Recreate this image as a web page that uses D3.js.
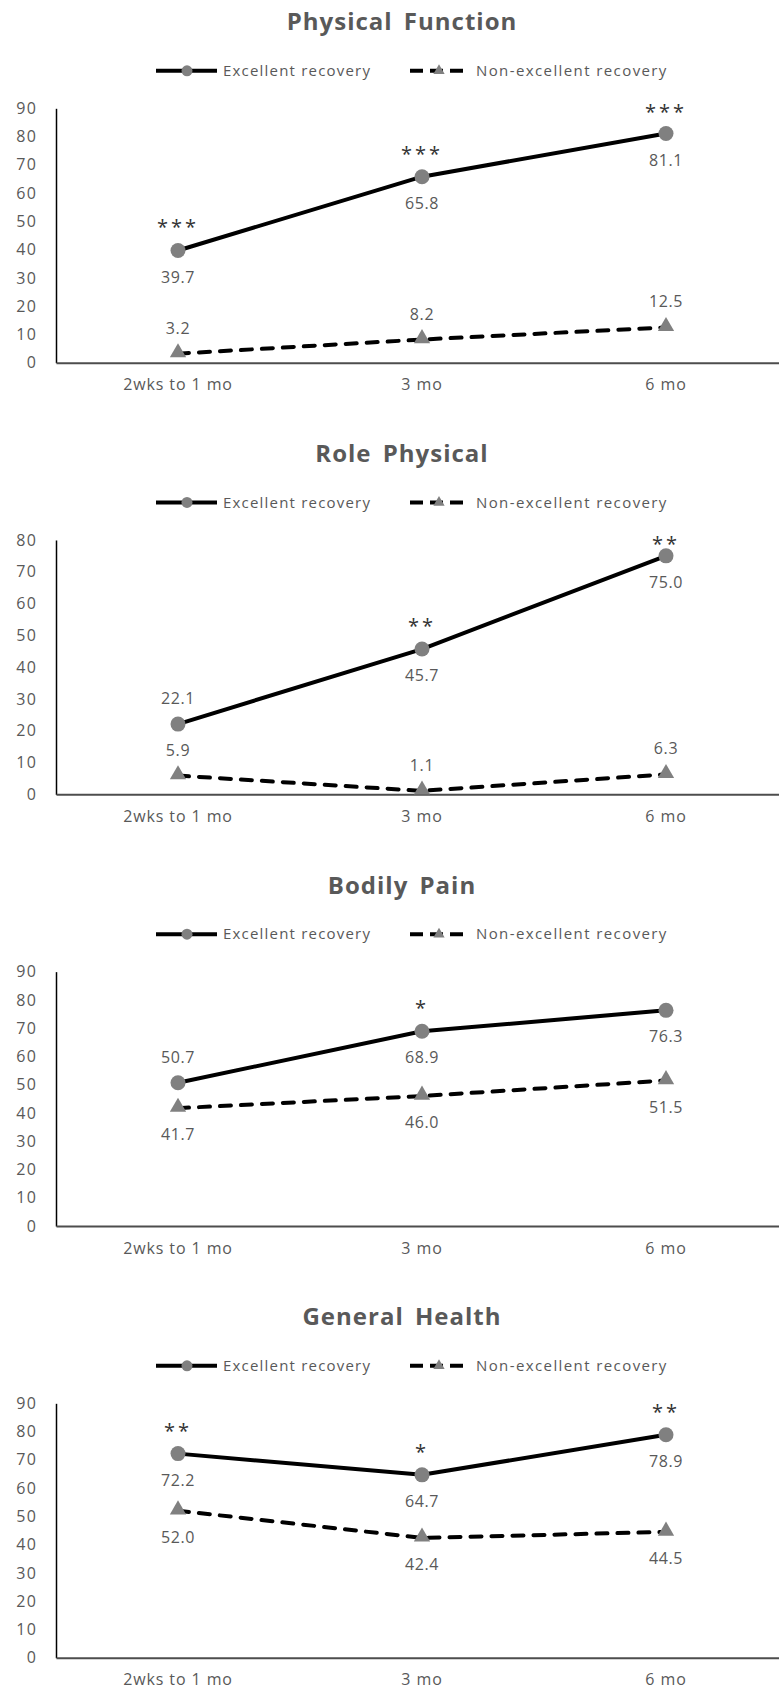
<!DOCTYPE html>
<html>
<head>
<meta charset="utf-8">
<script src="https://cdn.jsdelivr.net/npm/d3@7"></script>
<style>
  html, body { margin: 0; padding: 0; background: #fff; }
  svg { display: block; }
  text { font-family: "Open Sans", "Noto Sans", sans-serif; }
</style>
</head>
<body>
<svg id="chart" width="779" height="1690"></svg>
<script>
// Time points shared by every panel
const timepoints = ["2wks to 1 mo", "3 mo", "6 mo"];

// Panel titles (SF-36 domains)
const panelTitles = ["Physical Function", "Role Physical", "Bodily Pain", "General Health"];

// Mean scores per group
const physicalFunctionExcellent = [39.7, 65.8, 81.1];
const physicalFunctionNonExcellent = [3.2, 8.2, 12.5];
const rolePhysicalExcellent = [22.1, 45.7, 75.0];
const rolePhysicalNonExcellent = [5.9, 1.1, 6.3];
const bodilyPainExcellent = [50.7, 68.9, 76.3];
const bodilyPainNonExcellent = [41.7, 46.0, 51.5];
const generalHealthExcellent = [72.2, 64.7, 78.9];
const generalHealthNonExcellent = [52.0, 42.4, 44.5];

// Significance markers per time point
const physicalFunctionSig = ["***", "***", "***"];
const rolePhysicalSig = ["", "**", "**"];
const bodilyPainSig = ["", "*", ""];
const generalHealthSig = ["**", "*", "**"];

// Y-axis maxima and tick labels
const yMaxima = [90, 80, 90, 90];
const ticks90 = [0, 10, 20, 30, 40, 50, 60, 70, 80, 90];
const ticks80 = [0, 10, 20, 30, 40, 50, 60, 70, 80];

// Legend labels
const seriesNames = ["Excellent recovery", "Non-excellent recovery"];

// Which side of the marker each value label sits on
const labelSides = [
  { exc: ["below", "below", "below"], non: ["above", "above", "above"] },
  { exc: ["above", "below", "below"], non: ["above", "above", "above"] },
  { exc: ["above", "below", "below"], non: ["below", "below", "below"] },
  { exc: ["below", "below", "below"], non: ["below", "below", "below"] }
];

const panels = [
  { title: panelTitles[0], exc: physicalFunctionExcellent, non: physicalFunctionNonExcellent, sig: physicalFunctionSig, yMax: yMaxima[0], ticks: ticks90 },
  { title: panelTitles[1], exc: rolePhysicalExcellent, non: rolePhysicalNonExcellent, sig: rolePhysicalSig, yMax: yMaxima[1], ticks: ticks80 },
  { title: panelTitles[2], exc: bodilyPainExcellent, non: bodilyPainNonExcellent, sig: bodilyPainSig, yMax: yMaxima[2], ticks: ticks90 },
  { title: panelTitles[3], exc: generalHealthExcellent, non: generalHealthNonExcellent, sig: generalHealthSig, yMax: yMaxima[3], ticks: ticks90 }
];

// Layout
const svg = d3.select("#chart");
const textGrey = "#595959";
const markerGrey = "#808080";
const axisLeftX = 56;
const axisRightX = 788;
const firstPlotTop = 108.3;
const panelStep = 431.67;
const plotHeight = 254.4;

const x = d3.scaleBand().domain(timepoints).range([axisLeftX, axisRightX]);
const cx = d => x(d) + x.bandwidth() / 2;

panels.forEach((p, i) => {
  const top = firstPlotTop + panelStep * i;
  const bottom = top + plotHeight;
  const y = d3.scaleLinear().domain([0, p.yMax]).range([bottom, top]);
  const g = svg.append("g");

  // Title
  g.append("text")
    .attr("x", 402).attr("y", top - 86.5)
    .attr("dy", "0.35em")
    .attr("text-anchor", "middle")
    .attr("font-size", 24).attr("font-weight", 700)
    .attr("letter-spacing", 1)
    .attr("word-spacing", 4)
    .attr("fill", textGrey)
    .text(p.title);

  // Legend
  const ly = top - 37.5;
  const leg = g.append("g");
  leg.append("line").attr("x1", 156).attr("x2", 217).attr("y1", ly).attr("y2", ly)
    .attr("stroke", "#000").attr("stroke-width", 4);
  leg.append("circle").attr("cx", 187).attr("cy", ly).attr("r", 5.5).attr("fill", markerGrey);
  leg.append("text").attr("x", 223).attr("y", ly).attr("dy", "0.35em")
    .attr("font-size", 15).attr("letter-spacing", 1.2)
    .attr("fill", textGrey).text(seriesNames[0]);
  leg.append("line").attr("x1", 410).attr("x2", 467).attr("y1", ly).attr("y2", ly)
    .attr("stroke", "#000").attr("stroke-width", 4)
    .attr("stroke-dasharray", "13,7");
  leg.append("path").attr("d", d3.symbol(d3.symbolTriangle, 55)())
    .attr("transform", `translate(439,${ly})`).attr("fill", markerGrey);
  leg.append("text").attr("x", 476).attr("y", ly).attr("dy", "0.35em")
    .attr("font-size", 15).attr("letter-spacing", 1.4)
    .attr("fill", textGrey).text(seriesNames[1]);

  // Y axis
  const yAxis = g.append("g")
    .attr("transform", `translate(${axisLeftX},0)`)
    .call(d3.axisLeft(y).tickValues(p.ticks).tickSize(0).tickSizeOuter(0).tickPadding(19));
  yAxis.select(".domain").attr("stroke", "#000").attr("stroke-width", 1.5);
  yAxis.selectAll(".tick text").attr("font-size", 16).attr("fill", textGrey)
    .attr("letter-spacing", 1.2)
    .attr("font-family", '"Open Sans", sans-serif');

  // X axis
  const xAxis = g.append("g")
    .attr("transform", `translate(0,${bottom})`)
    .call(d3.axisBottom(x).tickSize(0).tickSizeOuter(0).tickPadding(0));
  xAxis.select(".domain").attr("stroke", "#4d4d4d").attr("stroke-width", 2);
  xAxis.selectAll(".tick text").attr("font-size", 16).attr("fill", textGrey)
    .attr("letter-spacing", 0.9)
    .attr("y", 22).attr("dy", "0.35em")
    .attr("font-family", '"Open Sans", sans-serif');

  const line = d3.line().x((d, j) => cx(timepoints[j])).y(d => y(d));

  // Non-excellent recovery: dashed line with triangles
  g.append("path").datum(p.non).attr("d", line)
    .attr("fill", "none").attr("stroke", "#000").attr("stroke-width", 4)
    .attr("stroke-dasharray", "11,10").attr("stroke-linecap", "round");
  g.selectAll(".tri").data(p.non).enter().append("path")
    .attr("d", d3.symbol(d3.symbolTriangle, 115)())
    .attr("transform", (d, j) => `translate(${cx(timepoints[j])},${y(d) - 1})`)
    .attr("fill", markerGrey);

  // Excellent recovery: solid line with circles
  g.append("path").datum(p.exc).attr("d", line)
    .attr("fill", "none").attr("stroke", "#000").attr("stroke-width", 4)
    .attr("stroke-linejoin", "round");
  g.selectAll(".dot").data(p.exc).enter().append("circle")
    .attr("cx", (d, j) => cx(timepoints[j])).attr("cy", d => y(d))
    .attr("r", 7.5).attr("fill", markerGrey);

  // Value labels
  const addLabels = (vals, sides) => {
    g.selectAll(null).data(vals).enter().append("text")
      .attr("x", (d, j) => cx(timepoints[j]))
      .attr("y", (d, j) => y(d) + (sides[j] === "below" ? 26.5 : -25.5))
      .attr("dy", "0.35em")
      .attr("text-anchor", "middle")
      .attr("font-size", 16).attr("letter-spacing", 0.6)
      .attr("fill", textGrey)
      .text(d => d.toFixed(1));
  };
  addLabels(p.exc, labelSides[i].exc);
  addLabels(p.non, labelSides[i].non);

  // Significance stars above the excellent-recovery markers
  g.selectAll(null).data(p.sig).enter().append("text")
    .attr("x", (d, j) => cx(timepoints[j]))
    .attr("y", (d, j) => Math.max(y(p.exc[j]) - 30, top - 3))
    .attr("dy", "0.7em")
    .attr("text-anchor", "middle")
    .attr("font-size", 20).attr("letter-spacing", 3)
    .attr("fill", "#333")
    .text(d => d);
});
</script>
</body>
</html>
